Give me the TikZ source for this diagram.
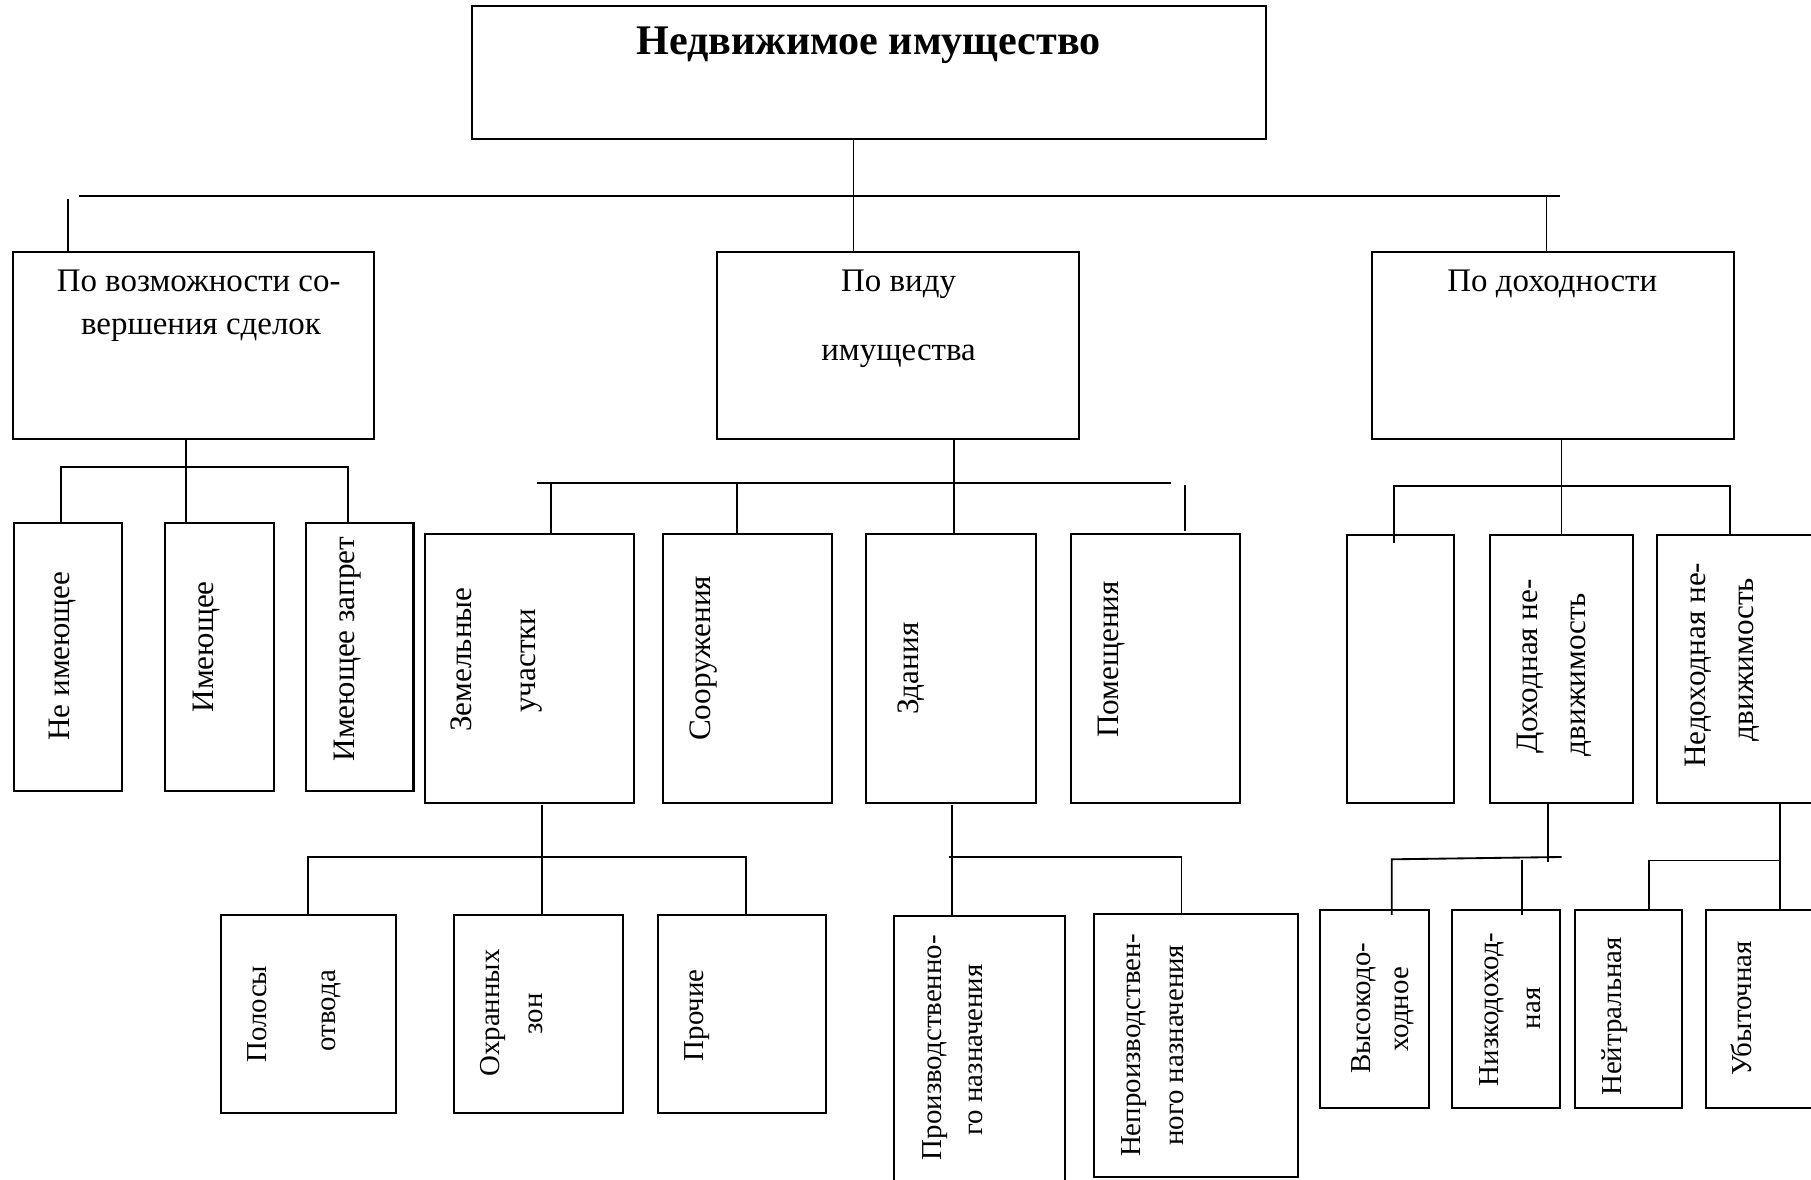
\documentclass[tikz,border=0pt]{standalone}
\usepackage{fontspec}
\setmainfont{Liberation Serif}
\newcommand{\bx}[5]{\node[boxst, minimum width={(#4-#2)*1pt}, minimum height={(#5-#3)*1pt}] (#1) at ({(#2+#4)/2},{(#3+#5)/2}) {};}
\tikzset{
  boxst/.style={draw, line width=1.8pt, inner sep=0pt, outer sep=0pt},
  conn/.style={line width=1.6pt},
  thz/.style={inner sep=0pt, font=\fontsize{28.5}{30}\selectfont, text height=20pt, text depth=6pt},
  ttl/.style={inner sep=0pt, font=\fontsize{36.5}{38}\selectfont\bfseries, text height=25pt, text depth=8pt},
  tvb/.style={inner sep=0pt, rotate=90, font=\fontsize{27}{29}\selectfont, text height=19pt, text depth=6pt},
  tvs/.style={inner sep=0pt, rotate=90, font=\fontsize{25}{27}\selectfont, text height=18pt, text depth=5pt}
}
\begin{document}
\begin{tikzpicture}[x=1pt,y=-1pt]
\useasboundingbox (0,0) rectangle (1568,1021);
\clip (0,0) rectangle (1568,1021);
% boxes
\bx{top}{409}{5}{1096}{120}
\bx{A}{11}{218}{324}{380}
\bx{B}{621}{218}{934}{380}
\bx{C}{1188}{218}{1501}{380}
\bx{A1}{12}{453}{106}{685}
\bx{A2}{143}{453}{237}{685}
\bx{A3}{265}{453}{358}{685}
\bx{B1}{368}{462}{549}{695}
\bx{B2}{574}{462}{720}{695}
\bx{B3}{750}{462}{897}{695}
\bx{B4}{927}{462}{1074}{695}
\bx{C1}{1166}{463}{1259}{695}
\bx{C2}{1290}{463}{1414}{695}
\bx{C3}{1435}{463}{1600}{695}
\bx{B11}{191}{792}{343}{964}
\bx{B12}{393}{792}{539}{964}
\bx{B13}{570}{792}{715}{964}
\bx{B31}{774}{793}{922}{1060}
\bx{B32}{947}{791}{1124}{1019}
\bx{C21}{1143}{788}{1237}{959}
\bx{C22}{1257}{788}{1351}{959}
\bx{C31}{1364}{788}{1456}{959}
\bx{C32}{1477}{788}{1600}{959}
% texts
\node[ttl] (ttop) at (752,39) {Недвижимое имущество};
\node[thz] (tA1) at (172,245) {По возможности со-};
\node[thz] (tA2) at (174,283) {вершения сделок};
\node[thz] (tB1) at (778,245) {По виду};
\node[thz] (tB2) at (778,305) {имущества};
\node[thz] (tC1) at (1344,245) {По доходности};
\node[tvb] (tA1v) at (54,568) {Не имеющее};
\node[tvb] (tA2v) at (178,560) {Имеющее};
\node[tvb] (tA3v) at (300,562) {Имеющее запрет};
\node[tvb] (tB1a) at (402,571) {Земельные};
\node[tvb] (tB1b) at (457,572) {участки};
\node[tvb] (tB2v) at (609,570) {Сооружения};
\node[tvb] (tB3v) at (789,579) {Здания};
\node[tvb] (tB4v) at (962,571) {Помещения};
\node[tvb] (tC2a) at (1325,577) {Доходная не-};
\node[tvb] (tC2b) at (1366,584) {движимость};
\node[tvb] (tC3a) at (1470,576) {Недоходная не-};
\node[tvb] (tC3b) at (1512,571) {движимость};
\node[tvs] (tB11a) at (224,878) {Полосы};
\node[tvs] (tB11b) at (284,875) {отвода};
\node[tvs] (tB12a) at (426,877) {Охранных};
\node[tvs] (tB12b) at (463,878) {зон};
\node[tvs] (tB13v) at (603,879) {Прочие};
\node[tvs] (tB31a) at (809,907) {Производственно-};
\node[tvs] (tB31b) at (844,909) {го назначения};
\node[tvs] (tB32a) at (981,905) {Непроизводствен-};
\node[tvs] (tB32b) at (1018,905) {ного назначения};
\node[tvs] (tC21a) at (1180,873) {Высокодо-};
\node[tvs] (tC21b) at (1213,874) {ходное};
\node[tvs] (tC22a) at (1291,874) {Низкодоход-};
\node[tvs] (tC22b) at (1327,873) {ная};
\node[tvs] (tC31v) at (1397,880) {Нейтральная};
\node[tvs] (tC32v) at (1510,873) {Убыточная};
% level 1 connectors
\coordinate (m1) at (68,170);
\coordinate (m2) at (1351,170);
\coordinate (xa) at (59,172);
\coordinate (xb) at (739,170);
\coordinate (xc) at (1339,170);
\draw[conn] (m1) -- (m2);
\draw[conn] (xa) -- (xa |- A.north);
\draw[conn] (xb |- top.south) -- (xb |- B.north);
\draw[conn] (xc) -- (xc |- C.north);
% group A
\coordinate (a1) at (53,404);
\coordinate (a2) at (301,404);
\coordinate (ac) at (161,404);
\draw[conn] (ac |- A.south) -- (ac |- A2.north);
\draw[conn] (a1 |- A1.north) -- (a1) -- (a2) -- (a2 |- A3.north);
% group B
\coordinate (b0) at (465,418);
\coordinate (b5) at (1014,418);
\coordinate (b1) at (477,418);
\coordinate (b2) at (638,418);
\coordinate (bc) at (826,418);
\coordinate (b4) at (1026,420);
\draw[conn] (b0) -- (b5);
\draw[conn] (b1) -- (b1 |- B1.north);
\draw[conn] (b2) -- (b2 |- B2.north);
\draw[conn] (bc |- B.south) -- (bc |- B3.north);
\draw[conn] (b4) -- ([yshift=2pt]b4 |- B4.north);
% group C
\coordinate (c1) at (1207,421);
\coordinate (c1e) at (1207,470);
\coordinate (c2) at (1498,421);
\coordinate (cc) at (1352,421);
\draw[conn] (c1e) -- (c1) -- (c2) -- (c2 |- C3.north);
\draw[conn] (cc |- C.south) -- (cc |- C2.north);
% group B1
\coordinate (d1) at (267,742);
\coordinate (d2) at (646,742);
\coordinate (dc) at (469,742);
\draw[conn] ([yshift=-2pt]dc |- B1.south) -- (dc |- B12.north);
\draw[conn] (d1 |- B11.north) -- (d1) -- (d2) -- (d2 |- B13.north);
% group B3
\coordinate (e0) at (822,742);
\coordinate (ec) at (824.5,742);
\coordinate (e2) at (1023,742);
\draw[conn] ([yshift=-2pt]ec |- B3.south) -- (ec |- B31.north);
\draw[conn] (e0) -- (e2) -- (e2 |- B32.north);
% group C2
\coordinate (f0) at (1205,744);
\coordinate (f3) at (1352,742);
\coordinate (fc) at (1340,746);
\coordinate (f2) at (1318,744.5);
\coordinate (f0e) at (1205,792);
\coordinate (f2e) at (1318,792);
\draw[conn] (fc |- C2.south) -- (fc);
\draw[conn] (f0e) -- (f0) -- (f3);
\draw[conn] (f2) -- (f2e);
% group C3
\coordinate (g1) at (1428,745);
\coordinate (gc) at (1541,745);
\draw[conn] (gc |- C3.south) -- (gc |- C32.north);
\draw[conn] (g1 |- C31.north) -- (g1) -- (gc);
\end{tikzpicture}
\end{document}
